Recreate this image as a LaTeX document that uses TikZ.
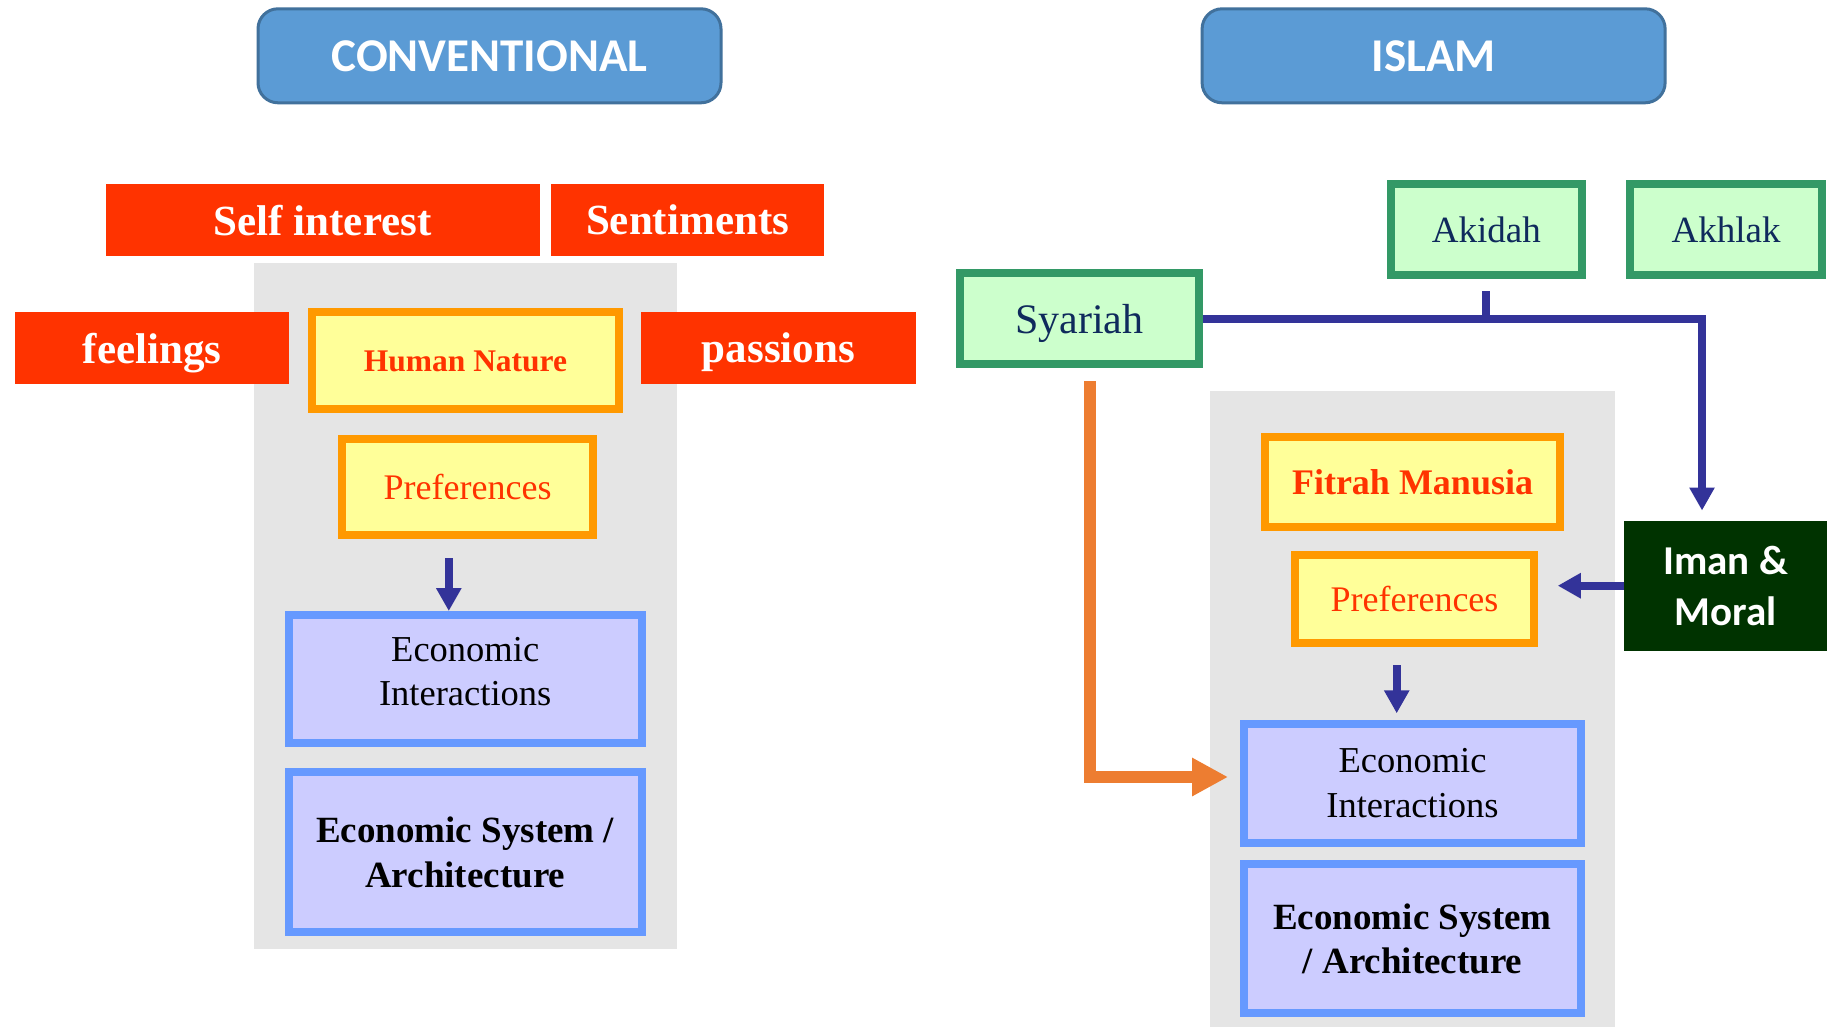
\documentclass[tikz,border=0pt]{standalone}
\usepackage{fontspec}
\setmainfont{Liberation Serif}
\newfontfamily\calibrifont{Carlito}
\usetikzlibrary{arrows.meta}

\definecolor{tagred}{HTML}{FF3300}
\definecolor{titleblue}{HTML}{5B9BD5}
\definecolor{titleedge}{HTML}{41719C}
\definecolor{yelfill}{HTML}{FFFF99}
\definecolor{yeledge}{HTML}{FF9900}
\definecolor{lavfill}{HTML}{CCCCFF}
\definecolor{lavedge}{HTML}{6699FF}
\definecolor{panelgray}{HTML}{E5E5E5}
\definecolor{greenfill}{HTML}{CCFFCC}
\definecolor{greenedge}{HTML}{339966}
\definecolor{navytext}{HTML}{0F2A5C}
\definecolor{arrowblue}{HTML}{333399}
\definecolor{orangec}{HTML}{ED7D31}
\definecolor{imangreen}{HTML}{003300}

\tikzset{
  titlebox/.style={draw=titleedge, line width=3pt, fill=titleblue, rounded corners=20pt,
    minimum width=463pt, minimum height=94pt, inner sep=0pt, text=white,
    font=\calibrifont\bfseries\fontsize{47}{56}\selectfont},
  redtag/.style={fill=tagred, text=white, inner sep=0pt, minimum height=71.7pt,
    text depth=0pt, font=\bfseries\fontsize{43}{50}\selectfont},
  yelbox/.style={draw=yeledge, fill=yelfill, line width=8pt, inner sep=0pt,
    text=tagred, text depth=0pt},
  lavbox/.style={draw=lavedge, fill=lavfill, line width=8pt, inner sep=0pt,
    align=center, text=black},
  greenbox/.style={draw=greenedge, fill=greenfill, line width=8pt, inner sep=0pt,
    text=navytext, text depth=0pt, font=\fontsize{37}{44}\selectfont},
  imanbox/.style={fill=imangreen, text=white, inner sep=0pt, align=center,
    font=\calibrifont\bfseries\fontsize{41}{51}\selectfont},
  blueline/.style={draw=arrowblue, line width=8pt},
  bluearrow/.style={blueline, -{Triangle[length=23pt,width=24pt]}},
  orangearrow/.style={draw=orangec, line width=12pt, -{Triangle[length=36pt,width=36pt]}}
}

\begin{document}
\begin{tikzpicture}[x=1pt,y=-1pt]
\fill[white] (0,0) rectangle (1827,1027);
\useasboundingbox (0,0) rectangle (1827,1027);

% grey panels behind the two stacks
\fill[panelgray] (253.6,263) rectangle (677,949);
\fill[panelgray] (1209.5,391) rectangle (1614.8,1027);

% headings
\node[titlebox] (conv) at (489.5,55.8) {CONVENTIONAL};
\node[titlebox] (islam) at (1433.6,55.8) {ISLAM};

% conventional side
\node[redtag, minimum width=434pt] (selfint) at (322.6,219.9) {Self interest};
\node[redtag, minimum width=273.6pt] (sentiments) at (687.6,219.9) {Sentiments};
\node[redtag, minimum width=273.7pt] (feelings) at (152,348) {feelings};
\node[redtag, minimum width=274.8pt] (passions) at (778.4,348) {passions};

\node[yelbox, minimum width=307.5pt, minimum height=97pt,
  font=\bfseries\fontsize{31.5}{38}\selectfont] (human) at (465.5,360.8) {Human Nature};
\node[yelbox, minimum width=250.3pt, minimum height=96pt,
  font=\fontsize{36}{43}\selectfont] (prefL) at (467.6,487) {Preferences};
\node[lavbox, minimum width=352.9pt, minimum height=128.3pt, text depth=16pt,
  font=\fontsize{36.5}{44}\selectfont] (eiL) at (465.2,679.2) {Economic\\Interactions};
\node[lavbox, minimum width=352.9pt, minimum height=160pt,
  font=\bfseries\fontsize{37}{45}\selectfont] (esL) at (465.2,852) {Economic System /\\Architecture};

\draw[bluearrow] ([xshift=-18.8pt,yshift=-19pt]prefL.south) -- ([xshift=-16.4pt]eiL.north);

% islamic side
\node[greenbox, minimum width=190.8pt, minimum height=90.4pt] (akidah) at (1486.3,229.5) {Akidah};
\node[greenbox, minimum width=191.4pt, minimum height=90.4pt] (akhlak) at (1726.1,229.5) {Akhlak};
\node[greenbox, minimum width=239.6pt, minimum height=90.7pt,
  font=\fontsize{42}{50}\selectfont] (syariah) at (1079.3,318.7) {Syariah};

\node[yelbox, minimum width=294.3pt, minimum height=89.7pt,
  font=\bfseries\fontsize{36}{43}\selectfont] (fitrah) at (1412.5,481.9) {Fitrah Manusia};
\node[yelbox, minimum width=239.1pt, minimum height=88.6pt,
  font=\fontsize{36}{43}\selectfont] (prefR) at (1414.5,599) {Preferences};
\node[imanbox, minimum width=203pt, minimum height=130pt] (iman) at (1725.5,585.7) {Iman \&\\Moral};
\node[lavbox, minimum width=337.3pt, minimum height=119pt,
  font=\fontsize{36.5}{45}\selectfont] (eiR) at (1412.5,783.2) {Economic\\Interactions};
\node[lavbox, minimum width=337.3pt, minimum height=148.7pt,
  font=\bfseries\fontsize{37}{44}\selectfont] (esR) at (1412.5,938.4) {Economic System\\/ Architecture};

% connectors
\draw[blueline] ([yshift=-12.3pt]akidah.south) -- (akidah.south |- syariah.east);
\draw[bluearrow] (syariah.east) -| ([xshift=-23.5pt,yshift=10pt]iman.north);
\draw[bluearrow] (iman.west) -- ([xshift=19.7pt]prefR.east |- iman.west);
\draw[bluearrow] ([xshift=-17.8pt,yshift=-17.7pt]prefR.south) -- ([xshift=-15.8pt,yshift=6.4pt]eiR.north);
\draw[orangearrow] ([xshift=10.5pt,yshift=-13pt]syariah.south) |- ([xshift=-11.8pt,yshift=6.2pt]eiR.west);
\end{tikzpicture}
\end{document}
